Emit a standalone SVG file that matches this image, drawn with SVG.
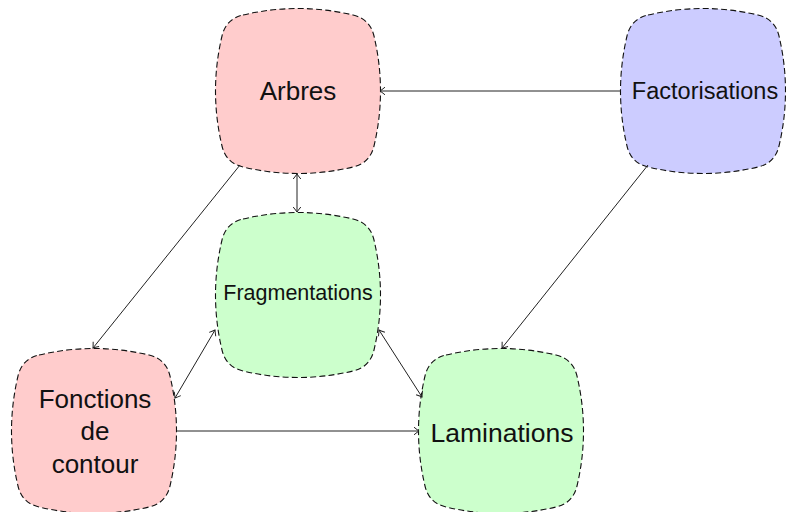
<svg xmlns="http://www.w3.org/2000/svg" width="786" height="512" viewBox="0 0 786 512">
<style>
.box{stroke:#111;stroke-width:1.1;stroke-dasharray:6 3.2;}
.pink{fill:#ffcccc;}
.blue{fill:#ccccff;}
.green{fill:#ccffcc;}
text{font-family:"Liberation Sans",Arial,sans-serif;fill:#111;text-anchor:middle;}
.edge{stroke:#222;stroke-width:1;fill:none;}
</style>
<defs>
<path id="shape" d="M-55,-76 Q0,-89 55,-76 Q72,-72 76,-55 Q89,0 76,55 Q72,72 55,76 Q0,89 -55,76 Q-72,72 -76,55 Q-89,0 -76,-55 Q-72,-72 -55,-76 Z"/>
<marker id="arr" viewBox="-6 -5 8 10" markerWidth="8" markerHeight="10" refX="0" refY="0" orient="auto-start-reverse" markerUnits="userSpaceOnUse">
<path d="M-5,-3.8 Q-1.5,-1 0,0 Q-1.5,1 -5,3.8" fill="none" stroke="#222" stroke-width="1"/>
</marker>
</defs>
<g id="arbres">
<use href="#shape" class="box pink" transform="translate(298,91)"/>
<text x="298" y="100" font-size="26">Arbres</text>
</g>
<g id="factorisations">
<use href="#shape" class="box blue" transform="translate(703,91)"/>
<text x="705" y="99" font-size="23.5">Factorisations</text>
</g>
<g id="fragmentations">
<use href="#shape" class="box green" transform="translate(298,295)"/>
<text x="298" y="300" font-size="21.5">Fragmentations</text>
</g>
<g id="fonctions">
<use href="#shape" class="box pink" transform="translate(94,431)"/>
<text x="95" y="408" font-size="26">Fonctions</text>
<text x="95" y="440" font-size="26">de</text>
<text x="95" y="473" font-size="26">contour</text>
</g>
<g id="laminations">
<use href="#shape" class="box green" transform="translate(501,431)"/>
<text x="502" y="442" font-size="26.5">Laminations</text>
</g>
<g id="connectors">
<line class="edge" x1="621" y1="91" x2="380" y2="91" marker-end="url(#arr)"/>
<line class="edge" x1="648" y1="165" x2="502" y2="348" marker-end="url(#arr)"/>
<line class="edge" x1="240" y1="165" x2="93" y2="348" marker-end="url(#arr)"/>
<line class="edge" x1="297" y1="174" x2="297" y2="212" marker-start="url(#arr)" marker-end="url(#arr)"/>
<line class="edge" x1="175" y1="398" x2="215" y2="330" marker-start="url(#arr)" marker-end="url(#arr)"/>
<line class="edge" x1="379" y1="330" x2="422" y2="397" marker-start="url(#arr)" marker-end="url(#arr)"/>
<line class="edge" x1="176" y1="431" x2="419" y2="431" marker-end="url(#arr)"/>
</g>
</svg>
